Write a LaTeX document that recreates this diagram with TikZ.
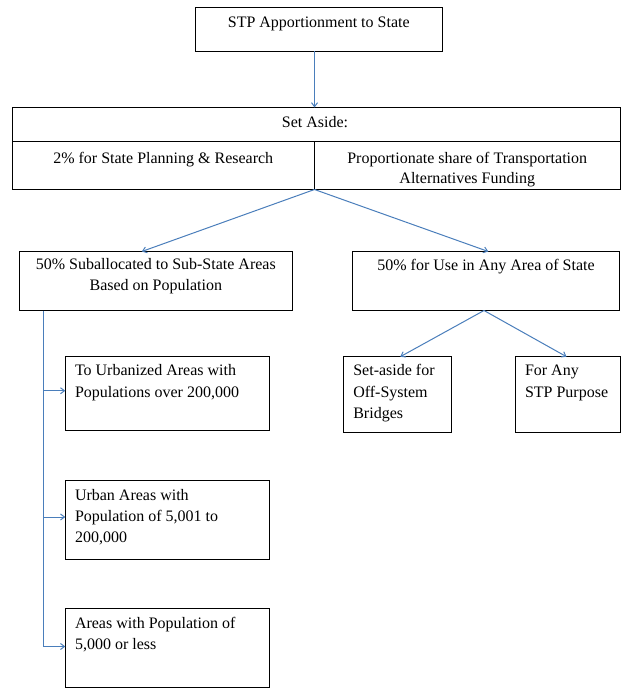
\documentclass[tikz,border=0pt]{standalone}
\usepackage{fontspec}
\setmainfont{Liberation Serif}
\usetikzlibrary{arrows.meta,calc}
\definecolor{linkblue}{RGB}{74,126,187}
\tikzset{
  box/.style={draw=black,line width=0.75pt,rectangle,inner sep=0pt,outer sep=0pt},
  txt/.style={inner sep=0pt,outer sep=0pt,font=\fontsize{12}{15.5}\selectfont},
  txtl/.style={inner sep=0pt,outer sep=0pt,font=\fontsize{12}{15.9}\selectfont},
  arr/.style={draw=linkblue,line width=0.75pt,-{Straight Barb[length=3pt,width=4.5pt,line width=0.75pt]}},
}
\newcommand\mkbox[5]{\node[box,anchor=north west,minimum width=#4*0.75pt,minimum height=#5*0.75pt] (#1) at (#2,#3) {};}
\begin{document}
\begin{tikzpicture}[x=0.75pt,y=-0.75pt]
\useasboundingbox (0,0) rectangle (636,700);
% boxes
\mkbox{top}{195.5}{7}{246.5}{44}
\mkbox{set}{12}{107.5}{608}{82}
\mkbox{sub}{19.3}{251.5}{273}{59}
\mkbox{any}{352.3}{251.5}{267.5}{59}
\mkbox{bridges}{343.3}{356.7}{108}{76}
\mkbox{stp}{515}{356.7}{105}{76}
\mkbox{b1}{65.3}{356.7}{204}{73.5}
\mkbox{b2}{65.3}{480.5}{204}{79}
\mkbox{b3}{65.3}{608.5}{204}{79}
% set-aside inner lines
\coordinate (split) at ($(set.south)+(-1.5,0)$);
\coordinate (divL) at ($(set.north west)+(0,34)$);
\coordinate (divR) at ($(set.north east)+(0,34)$);
\draw[line width=0.75pt] (divL) -- (divR);
\draw[line width=0.75pt] (split) -- (split |- divL);
% texts
\node[txt,anchor=north] (ttop) at ($(top.north)+(0,6)$) {\strut STP Apportionment to State};
\node[txt,anchor=north] (tset) at ($(set.north)+(-1,5.5)$) {\strut Set Aside:};
\node[txt,anchor=north] (tplan) at ($(divL)!0.5!(split |- divL)+(0,7.3)$) {\strut 2\% for State Planning \& Research};
\node[txt,anchor=north,align=center] (tprop) at ($(split |- divL)!0.5!(divR)+(0,7.3)$) {\strut Proportionate share of Transportation\\Alternatives Funding};
\node[txt,anchor=north,align=center] (tsub) at ($(sub.north)+(0,4)$) {\strut 50\% Suballocated to Sub-State Areas\\Based on Population};
\node[txt,anchor=north] (tany) at ($(any.north)+(0,4.3)$) {\strut 50\% for Use in Any Area of State};
\node[txtl,anchor=north west,align=left] (tbr) at ($(bridges.north west)+(10,4.3)$) {\strut Set-aside for\\Off-System\\Bridges};
\node[txtl,anchor=north west,align=left] (tstp) at ($(stp.north west)+(10,4.3)$) {\strut For Any\\STP Purpose};
\node[txtl,anchor=north west,align=left] (tb1) at ($(b1.north west)+(9.7,4.3)$) {\strut To Urbanized Areas with\\Populations over 200,000};
\node[txtl,anchor=north west,align=left] (tb2) at ($(b2.north west)+(9.7,4.8)$) {\strut Urban Areas with\\Population of 5,001 to\\200,000};
\node[txtl,anchor=north west,align=left] (tb3) at ($(b3.north west)+(9.7,5.2)$) {\strut Areas with Population of\\5,000 or less};
% connectors
\draw[arr] (top.south -| split) -- (set.north -| split);
\draw[arr] (split) -- ($(sub.north west)+(122.5,0)$);
\draw[arr] (split) -- ($(any.north west)+(136,0)$);
\coordinate (anyout) at ($(any.south west)+(131.7,0)$);
\draw[arr] (anyout) -- ($(bridges.north west)+(57,0)$);
\draw[arr] (anyout) -- ($(stp.north west)+(51.5,0)$);
\coordinate (trunk) at ($(sub.south west)+(24,0)$);
\coordinate (in1) at ($(b1.west)+(0,-2.7)$);
\coordinate (in2) at ($(b2.west)+(0,-3)$);
\coordinate (in3) at ($(b3.west)+(0,-1.5)$);
\draw[arr] (trunk) |- (in3);
\draw[arr] (trunk |- in1) -- (in1);
\draw[arr] (trunk |- in2) -- (in2);
\end{tikzpicture}
\end{document}
